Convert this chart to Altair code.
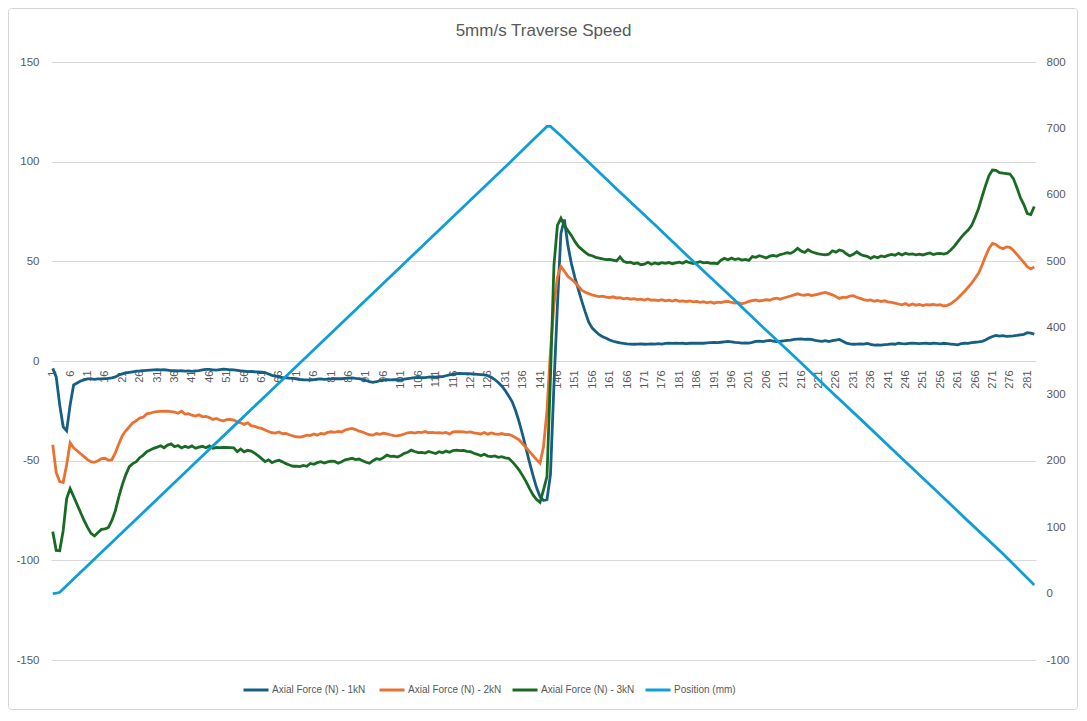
import altair as alt
import pandas as pd

# ---- data ----
series_names = ["Axial Force (N) -  1kN", "Axial Force (N) - 2kN",
                "Axial Force (N) - 3kN", "Position (mm)"]
series_colors = ["#156082", "#E97132", "#196B24", "#0F9ED5"]

x_ticks = [1, 6, 11, 16, 21, 26, 31, 36, 41, 46, 51, 56, 61, 66, 71, 76, 81, 86, 91, 96,
           101, 106, 111, 116, 121, 126, 131, 136, 141, 146, 151, 156, 161, 166, 171, 176,
           181, 186, 191, 196, 201, 206, 211, 216, 221, 226, 231, 236, 241, 246, 251, 256,
           261, 266, 271, 276, 281]
left_ticks = [-150, -100, -50, 0, 50, 100, 150]
right_ticks = [-100, 0, 100, 200, 300, 400, 500, 600, 700, 800]

force_1kN = [
    -3.7, -8, -22, -33, -35, -22, -12, -11, -10, -9.5,
    -9, -9, -9.2, -9, -9, -8.8, -8.7, -8.5, -8, -7,
    -6.5, -6, -5.7, -5.4, -5.1, -5, -4.8, -4.7, -4.6, -4.5,
    -4.4, -4.5, -4.4, -4.6, -4.8, -4.9, -5, -4.9, -5.1, -5,
    -5.2, -5, -4.8, -4.5, -4.2, -4.2, -4.4, -4.6, -4.3, -4.1,
    -4.2, -4.4, -4.5, -4.7, -4.9, -5.1, -5.3, -5.2, -5.4, -5.5,
    -5.6, -5.8, -6.5, -7.2, -7.6, -8, -8.3, -8.4, -8.6, -8.7,
    -8.9, -9.2, -9.4, -9.5, -9.6, -9.3, -9.1, -9, -9.2, -9.1,
    -9, -8.8, -8.9, -8.9, -8.7, -8.6, -8.5, -8.7, -8.8, -9.2,
    -9.8, -10.3, -10.7, -10.4, -9.9, -9.6, -9.4, -9.5, -9.3, -9.4,
    -9.5, -9.1, -8.8, -8.6, -8.3, -8.2, -8.4, -8.3, -8.1, -8.0,
    -8.1, -7.9, -7.8, -7.4, -7.0, -6.6, -6.3, -6.2, -6.3, -6.4,
    -6.5, -6.6, -6.7, -6.8, -7.0, -7.4, -8.2, -9.3, -10.8, -12.5,
    -14.8, -17.5, -20.5, -25, -30.5, -37, -44, -51, -57.5, -63.5,
    -68, -70, -69.5, -57, -12, 28, 64, 71, 58, 49,
    42, 36, 30, 24.5, 19.5, 16.5, 14.8, 13.2, 12.2, 11.4,
    10.5, 9.9, 9.5, 9.1, 8.8, 8.6, 8.5, 8.4, 8.5, 8.6,
    8.4, 8.5, 8.6, 8.5, 8.7, 8.5, 8.8, 8.9, 8.8, 9.0,
    8.8, 8.9, 8.7, 8.9, 9.0, 8.9, 9.0, 8.9, 9.1, 9.2,
    9.3, 9.2, 9.4, 9.6, 9.8, 9.6, 9.3, 9.2, 9.0, 9.1,
    9.0, 9.3, 9.8, 10.0, 9.7, 10.1, 10.3, 10.0, 9.7, 9.9,
    10.1, 10.3, 10.5, 10.9, 11.0, 11.1, 10.9, 11.0, 10.8, 10.4,
    10.1, 9.9, 10.2, 9.7, 10.2, 10.5, 10.8, 9.9, 9.0, 8.6,
    8.4, 8.5, 8.6, 8.5, 8.8, 8.3, 8.0, 8.1, 8.0, 8.2,
    8.3, 8.6, 8.4, 8.9, 8.7, 8.6, 8.8, 8.9, 8.8, 8.7,
    8.8, 8.9, 8.7, 8.9, 8.8, 8.6, 8.9, 8.7, 8.5, 8.3,
    8.1, 8.7, 8.9, 8.8, 9.2, 9.4, 9.6, 9.9, 10.5, 11.5,
    12.3, 12.8, 12.5, 12.7, 12.4, 12.5, 12.6, 12.8, 13.1, 13.4,
    14.2, 14.0, 13.5,
]

force_2kN = [
    -42, -56, -60.5, -61, -52, -41, -43.5, -45, -46.5, -48,
    -49.5, -50.5, -50.8, -50, -49, -48.8, -49.8, -49.5, -46, -41.5,
    -37.5, -35, -33, -31, -30, -28.6, -28.2, -26.5, -26.2, -25.6,
    -25.4, -25.3, -25.2, -25.2, -25.4, -25.6, -26.2, -25.2, -26.6, -26.4,
    -27.2, -27.6, -27, -28, -27.8, -28.4, -29.3, -28.8, -29.6, -30,
    -29.4, -29.3, -29.6, -30.5, -31, -31.8, -31, -32.4, -32.8, -33.4,
    -33.8, -34.6, -35.4, -36, -36.2, -35.6, -36.5, -36.3, -37, -37.6,
    -38, -38.2, -37.8, -37.2, -37.4, -36.6, -37.2, -36.3, -36.6, -35.8,
    -35.5, -35.8, -35.3, -35.6, -34.6, -34.2, -33.8, -34.4, -35.2, -35.6,
    -36.4, -37, -37.2, -36.4, -36.8, -36.2, -36.6, -37, -37.4, -37.6,
    -37.2, -36.6, -36, -35.8, -36.2, -35.7, -35.9, -35.4, -36, -35.8,
    -36.1, -35.9, -36.2, -35.8, -36.6, -35.6, -35.4, -35.5, -35.6, -35.8,
    -35.6, -36, -36.3, -36.6, -35.9, -36.7, -36.1, -36.5, -36.8, -36.4,
    -36.9, -36.8, -37.5, -38.5, -39.6, -41.5, -43.5, -45.5, -47.5, -49.5,
    -51.3, -43, -25, 5, 28, 42, 47.5, 45, 42.5, 41,
    39.5, 37.5, 35.5, 34.5, 33.8, 33.2, 32.7, 32.3, 32.5, 32.0,
    31.8, 32.2, 31.6, 31.8, 31.2, 31.5, 31.0, 31.3, 30.8, 31.0,
    30.6, 31.1, 30.5, 30.7, 30.3, 30.8, 30.2, 30.5, 30.1, 30.6,
    30.0, 30.2, 29.8, 30.1, 29.7, 29.9, 29.4, 29.8, 29.2, 29.6,
    29.0, 29.5, 29.3, 29.8, 29.9, 29.4, 29.1, 29.3, 28.7, 29.2,
    29.9, 30.3, 30.6, 30.1, 30.4, 30.8, 30.5, 31.2, 31.5, 31.0,
    31.6, 32.1, 32.6, 33.2, 33.7, 33.2, 33.0, 33.4, 32.8, 33.2,
    33.6, 34.0, 34.4, 33.8, 33.2, 32.3, 31.4, 32.0, 31.8, 32.6,
    32.8, 32.0, 31.4, 30.8, 30.4, 30.6, 30.0, 30.4, 29.8, 30.2,
    29.7, 29.4, 29.0, 28.6, 28.2, 28.8, 27.9, 28.6, 28.0, 28.4,
    27.8, 28.3, 28.1, 28.4, 28.0, 28.2, 27.6, 27.9, 28.7, 30.0,
    31.5, 33.2, 35.0, 37.0, 39.0, 41.5, 44.0, 48.0, 52.5, 56.5,
    59.0, 58.5, 57.0, 56.3, 57.2, 57.0, 55.5, 53.5, 51.5, 49.5,
    47.3, 46.2, 47.2,
]

force_3kN = [
    -85.6, -95, -95.2, -85, -69, -64, -68, -72, -76, -80,
    -83.5, -86.5, -87.8, -86, -84.5, -84.2, -83.5, -80, -75, -68,
    -62, -57, -53, -51.5, -50.5, -48.5, -47.2, -45.5, -44.7, -43.8,
    -43.2, -42.5, -43.5, -42.2, -41.6, -43, -42.4, -43.6, -42.8, -43.4,
    -42.6, -43.8, -43.2, -42.8, -43.5, -42.6, -43.8, -43.4, -43.5, -43.3,
    -43.4, -43.5, -43.6, -45.5, -44.2, -45.6, -44.8, -45.2, -46.2, -47.5,
    -49, -50.5, -49.6, -51, -50.2, -49.8, -50.6, -51.5, -52.2, -52.8,
    -52.7, -53, -52.4, -52.8, -51.4, -51.8, -51, -50.5, -51.2, -50.6,
    -50.2, -50.4, -51.3, -50.5, -49.6, -49.2, -48.8, -49.5, -49.2, -50.0,
    -50.8, -51.3, -50.0, -49.0, -49.4, -48.5, -47.2, -47.8, -47.7, -48.2,
    -47.4, -46.3, -45.8, -44.7, -45.4, -46.0, -45.8, -46.2, -45.4, -45.9,
    -46.4, -45.5, -46.0, -45.2, -45.8, -44.9, -44.7, -45.0, -44.8, -45.3,
    -45.5, -46.3, -46.8, -47.5, -46.8, -47.7, -48.0, -47.6, -48.3, -48.0,
    -48.6, -48.8, -50.5, -52.5, -54.7, -57.5, -60.5, -64, -67.2, -69.5,
    -70.9, -64.7, -58, -8, 48, 68, 71.6, 68, 65.5, 63,
    60, 57.5, 56, 54.5, 53.2, 52.8, 52.0, 51.6, 51.2, 50.9,
    51.0, 50.6, 50.2, 52.2, 50.0, 49.4, 49.6, 48.8, 49.2, 48.3,
    48.6, 49.5, 48.5, 49.2, 48.7, 49.3, 49.0, 49.4, 48.8, 49.2,
    49.6, 49.0, 50.0, 49.3, 48.9, 49.4, 49.8, 49.2, 49.5, 49.0,
    49.1, 48.8, 50.6, 51.5, 50.8, 51.6, 50.9, 51.3, 50.6, 51.0,
    50.5, 52.4, 52.0, 52.8, 52.3, 51.7, 52.6, 53.0, 52.5, 53.4,
    53.8, 54.3, 54.0, 55.0, 56.5, 55.2, 54.5, 55.8, 54.8, 54.2,
    53.8, 53.5, 53.3, 53.6, 55.3, 54.6, 55.7, 55.2, 53.8, 52.7,
    53.5, 54.8, 53.6, 52.8, 52.5, 51.5, 52.4, 51.8, 52.7, 52.3,
    53.0, 53.5, 53.1, 54.0, 53.2, 54.1, 53.5, 53.7, 53.3, 53.6,
    53.2, 53.7, 54.2, 53.4, 53.9, 54.0, 53.6, 54.2, 55.7, 57.5,
    59.8, 62.0, 64.0, 65.7, 68.0, 72.0, 76.5, 82.4, 88.0, 93.0,
    95.8, 95.6, 94.5, 94.2, 94.0, 93.8, 91.5, 87.0, 82.0, 78.5,
    74.0, 73.5, 77.5,
]

# position (mm), read at the line's corners and along its straight runs
position_idx = [1, 2, 3, 13, 23, 33, 43, 53, 63, 73, 83, 93, 103, 113, 123, 133, 140,
                143, 144, 147, 154, 164, 174, 184, 194, 204, 214, 224, 234, 244, 254,
                264, 274, 283]
position_mm = [0, 0.5, 2, 52, 102, 152, 202, 252, 302, 352, 402, 452, 502, 552, 602,
               652, 688, 703, 703, 689, 654, 604, 555, 505, 456, 406, 357, 307, 258,
               208, 159, 109, 60, 13]

# ---- tables ----
rows = []
for name, vals in zip(series_names[:3], [force_1kN, force_2kN, force_3kN]):
    for i, v in enumerate(vals):
        rows.append({"idx": i + 1, "value": v, "series": name})
force_df = pd.DataFrame(rows)
pos_df = pd.DataFrame({"idx": position_idx, "value": position_mm,
                       "series": series_names[3]})
frame_df = pd.DataFrame({"k": [0]})

FONT = "Liberation Sans"
GREY = "#595959"
W, H = 985, 598

x_scale = alt.Scale(domain=[0.5, 283.5], nice=False, zero=False)
x_axis = alt.Axis(values=x_ticks, labelAngle=270, offset=-H / 2,
                  grid=False, domain=False, ticks=False,
                  labelPadding=9, labelFontSize=11, labelColor=GREY,
                  labelFont=FONT, labelOverlap=False, labelBound=False,
                  labelFlush=False)
color = alt.Color(
    "series:N",
    scale=alt.Scale(domain=series_names, range=series_colors),
    legend=alt.Legend(
        title=None, orient="none", legendX=191, legendY=614,
        direction="horizontal", columns=4, symbolType="stroke",
        symbolSize=625, symbolStrokeWidth=3, labelFontSize=10,
        labelColor=GREY, labelFont=FONT, columnPadding=4, labelOffset=2,
    ),
)

forces = alt.Chart(force_df).mark_line(strokeWidth=2.8).encode(
    x=alt.X("idx:Q", scale=x_scale, title=None, axis=x_axis),
    y=alt.Y("value:Q", scale=alt.Scale(domain=[-150, 150], nice=False), title=None,
            axis=alt.Axis(values=left_ticks, grid=True, gridColor="#d9d9d9",
                          domain=False, ticks=False, labelPadding=12,
                          labelFontSize=11.5, labelColor=GREY, labelFont=FONT,
                          labelExpr="toString(datum.value)")),
    color=color,
    order="idx:Q",
)

position = alt.Chart(pos_df).mark_line(strokeWidth=2.8).encode(
    x=alt.X("idx:Q", scale=x_scale, title=None, axis=x_axis),
    y=alt.Y("value:Q", scale=alt.Scale(domain=[-100, 800], nice=False), title=None,
            axis=alt.Axis(orient="right", values=right_ticks, grid=False,
                          domain=False, ticks=False, labelPadding=10,
                          labelFontSize=11.5, labelColor=GREY, labelFont=FONT,
                          labelExpr="toString(datum.value)")),
    color=color,
    order="idx:Q",
)

# chart-area border (decoration around the whole chart)
frame = alt.Chart(frame_df).mark_rect(
    fillOpacity=0, stroke="#d4d4d4", strokeWidth=1, cornerRadius=3
).encode(x=alt.value(-42.5), x2=alt.value(1026.5), y=alt.value(-53.5),
         y2=alt.value(647.5))

chart = alt.layer(forces, position, frame).resolve_scale(
    y="independent"
).properties(
    width=W, height=H,
    autosize=alt.AutoSizeParams(type="none"),
    padding={"left": 43, "top": 54, "right": 42, "bottom": 51},
    title=alt.TitleParams("5mm/s Traverse Speed", fontSize=17, color=GREY,
                          font=FONT, fontWeight="normal", anchor="middle",
                          frame="group", offset=-32),
).configure_view(stroke=None).configure_axis(labelColor=GREY)

chart.save("out.html", embed_options={"renderer": "svg", "actions": False})
